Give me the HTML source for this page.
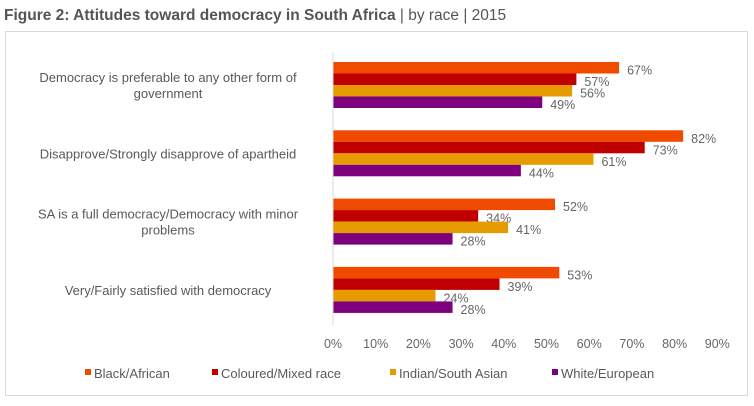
<!DOCTYPE html>
<html><head><meta charset="utf-8"><style>
body{margin:0;background:#fff;font-family:"Liberation Sans",sans-serif;}
svg text{font-family:"Liberation Sans",sans-serif;}
</style></head><body>
<svg width="754" height="401">
<text x="4" y="20" font-size="15.5" fill="#555"><tspan font-weight="bold">Figure 2: Attitudes toward democracy in South Africa</tspan> | by race | 2015</text>
<rect x="5.5" y="31.5" width="742" height="364" fill="none" stroke="#d9d9d9"/>
<g id="plot"></g>
</svg>
<script>
const categories=[["Democracy is preferable to any other form of","government"],["Disapprove/Strongly disapprove of apartheid"],["SA is a full democracy/Democracy with minor","problems"],["Very/Fairly satisfied with democracy"]];
const seriesNames=["Black/African","Coloured/Mixed race","Indian/South Asian","White/European"];
const black=[67,82,52,53];
const coloured=[57,73,34,39];
const indian=[56,61,41,24];
const white=[49,44,28,28];
const ticks=[0,10,20,30,40,50,60,70,80,90];
const colors=["#f04a00","#c00000","#e69b00","#7f007f"];
const series=[black,coloured,indian,white];
const ns="http://www.w3.org/2000/svg";
const g=document.getElementById('plot');
const x0=333,scale=4.27;
const X=v=>x0+v*scale;
const gy=i=>85+i*68.3, bh=11.5;
function mk(t,a,txt){const e=document.createElementNS(ns,t);for(const k in a)e.setAttribute(k,a[k]);if(txt!=null)e.textContent=txt;g.appendChild(e);return e;}
categories.forEach((c,i)=>{
  c.forEach((line,j)=>{
    const t=mk('text',{x:168,y:gy(i)+5-(c.length-1)*8+j*16,'font-size':13,fill:'#595959','text-anchor':'middle'},line);
    
    
  });
  series.forEach((s,k)=>{
    const y=gy(i)-2*bh+k*bh;
    const r=mk('rect',{x:x0,y:y,width:X(s[i])-x0,height:bh,fill:colors[k]});
    
    
    const t=mk('text',{x:X(s[i])+8,y:y+bh+1,'font-size':12.5,fill:'#666'},s[i]+'%');
    
    
  });
});
const ax=mk('line',{x1:x0,y1:52,x2:x0,y2:325,stroke:'#d9d9d9'});


ticks.forEach(v=>{
  const t=mk('text',{x:X(v),y:348,'font-size':12.5,fill:'#666','text-anchor':'middle'},v+'%');
  
  
});
const lx=[85,212,390,552];
seriesNames.forEach((n,k)=>{
  const r=mk('rect',{x:lx[k],y:369,width:6,height:6,fill:colors[k]});
  
  
  const t=mk('text',{x:lx[k]+9,y:378,'font-size':13,fill:'#595959'},n);
  
  
});
</script>
</body></html>
